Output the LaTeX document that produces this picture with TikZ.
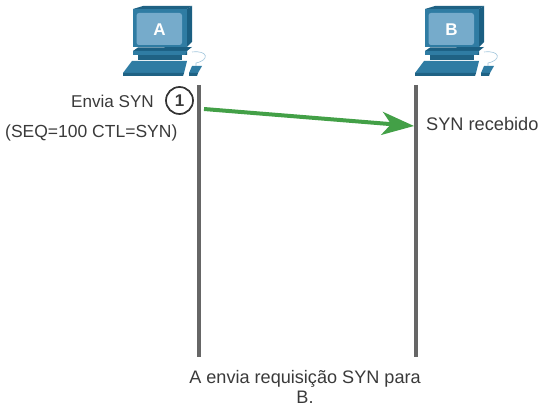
\documentclass[tikz,border=0pt]{standalone}
\usepackage{fontspec}
\setmainfont{Liberation Sans}
\usetikzlibrary{arrows.meta}
\definecolor{pcdark}{HTML}{1F6284}
\definecolor{pcmid}{HTML}{2F7CA3}
\definecolor{pcside}{HTML}{1B5F82}
\definecolor{pcscreen}{HTML}{76ABCB}
\definecolor{txt}{HTML}{3A3A3A}
\definecolor{lifeline}{HTML}{666666}
\definecolor{arrowgreen}{HTML}{43A047}
\tikzset{
  x=1pt,y=-1pt,
  lab/.style={font=\fontsize{18.2}{19}\selectfont,text=txt,inner sep=0pt},
  pcname/.style={font=\bfseries\fontsize{17}{17}\selectfont,text=white,inner sep=0pt},
  life/.style={draw=lifeline,line width=3.2pt},
  msg/.style={draw=arrowgreen,line width=4pt,-{Stealth[length=32pt,width=23pt,inset=9pt]}},
  stepcircle/.style={circle,draw=black!80,line width=1.7pt,minimum size=27pt,inner sep=0pt,font=\bfseries\fontsize{17}{17}\selectfont,text=txt},
  computer/.pic={
    % monitor
    \fill[pcdark] (-27,-21) -- (-17,-24) -- (32,-24) -- (27,-21) -- cycle;
    \fill[pcside] (27,-21) -- (32,-24) -- (32,12) -- (27,17) -- cycle;
    \fill[pcmid] (-27,-21) rectangle (27,17);
    \fill[pcscreen,rounded corners=2.5pt] (-23.5,-17) rectangle (22,15);
    % base
    \fill[pcside] (-27,21) -- (-22,17.5) -- (32,17) -- (27,21) -- (27,25) -- (-27,25) -- cycle;
    \fill[pcmid] (-27,21) -- (27,21) -- (25,25) -- (-27,25) -- cycle;
    \fill[pcdark] (-22,25) -- (22,25) -- (22,30) -- (-22,30) -- cycle;
    % keyboard
    \fill[pcmid] (-37,43) -- (-28,31) -- (27,31) -- (24,43) -- cycle;
    \fill[pcdark] (-37,43) -- (24,43) -- (23,46) -- (-37,46) -- cycle;
    % mouse
    \fill[pcmid] (29,43) -- (32,36) -- (42,36) -- (38,43) -- cycle;
    \fill[pcdark] (29,43) -- (38,43) -- (37,46) -- (29,46) -- cycle;
    % cable
    \draw[pcscreen!70,line width=.6pt] (32,22) .. controls (48,20) and (50,30) .. (36,33) -- (36,36);
  }
}
\begin{document}
\begin{tikzpicture}
\useasboundingbox (0,0) rectangle (543,411);
\pic at (160,30) {computer};
\pic at (452,30) {computer};
\node[pcname] (nameA) at (159.5,30) {A};
\node[pcname] (nameB) at (451.5,30) {B};
\coordinate (atop) at (199,85);
\coordinate (abot) at (199,357);
\coordinate (btop) at (416,85);
\coordinate (bbot) at (416,357);
\draw[life] (atop) -- (abot);
\draw[life] (btop) -- (bbot);
\coordinate (from) at (204,109);
\coordinate (to) at (414,126);
\draw[msg] (from) -- (to);
\node[stepcircle] (one) at (179.5,100.5) {1};
\node[lab,anchor=east,font=\fontsize{17.1}{19}\selectfont] (envia) at (154,101) {Envia SYN};
\node[lab,anchor=west,font=\fontsize{17.5}{19}\selectfont] (seq) at (5,132.5) {(SEQ=100 CTL=SYN)};
\node[lab,anchor=west] (rec) at (426,124) {SYN recebido};
\node[lab,align=center,anchor=north,font=\fontsize{18.1}{19.5}\selectfont] (cap) at (305,370.5) {A envia requisição SYN para\\B.};
\end{tikzpicture}
\end{document}
